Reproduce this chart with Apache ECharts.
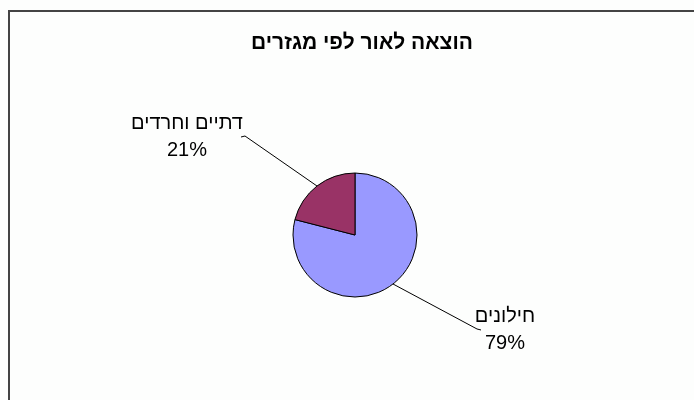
<!DOCTYPE html>
<html><head><meta charset="utf-8">
<script src="https://cdn.jsdelivr.net/npm/echarts@6/dist/echarts.min.js"></script>
<style>html,body{margin:0;padding:0;background:#fff}#c{width:694px;height:400px}</style>
</head><body><div id="c"></div>
<script>
const title = 'הוצאה לאור לפי מגזרים';
const categories = ['חילונים', 'דתיים וחרדים'];
const values = [79, 21];
const colors = ['#9999FF', '#993366'];
// label offsets from the slice edge point: [labelDx, labelDy, lineDx, lineDy, align]
const labelOffsets = [[112, 46, 84, 45, 'center'], [-130, -49, -72, -50, 'center']];

const chart = echarts.init(document.getElementById('c'), null, {renderer: 'canvas'});
chart.setOption({
  backgroundColor: '#fdfefd',
  animation: false,
  title: {
    text: title, left: 357, top: 28, textAlign: 'center',
    textStyle: {fontFamily: 'Arial, Liberation Sans', fontWeight: 'bold', fontSize: 21, color: '#000'}
  },
  graphic: [{
    type: 'rect', shape: {x: 9, y: 11, width: 720, height: 420},
    style: {fill: 'none', stroke: '#444', lineWidth: 2}, silent: true
  }],
  series: [{
    type: 'pie',
    center: [355, 235],
    radius: 62,
    startAngle: 90,
    clockwise: true,
    data: categories.map((n, i) => ({name: n, value: values[i], itemStyle: {color: colors[i]}})),
    itemStyle: {borderColor: '#000', borderWidth: 1},
    label: {
      show: true, position: 'outside',
      formatter: p => p.name + '\n' + p.value + '%',
      fontFamily: 'Arial, Liberation Sans', fontSize: 20, lineHeight: 27, color: '#000', align: 'center'
    },
    labelLine: {show: true, length: 10, length2: 10, lineStyle: {color: '#000', width: 1}},
    labelLayout: function (params) {
      const p0 = params.labelLinePoints[0];
      const o = labelOffsets[params.dataIndex];
      return {
        x: p0[0] + o[0], y: p0[1] + o[1], align: o[4], verticalAlign: 'middle',
        labelLinePoints: [p0, [p0[0] + o[2], p0[1] + o[3]], [p0[0] + o[2] + (o[2] > 0 ? 4 : -4), p0[1] + o[3] + 1]]
      };
    },
    emphasis: {disabled: true}
  }]
});
</script></body></html>
